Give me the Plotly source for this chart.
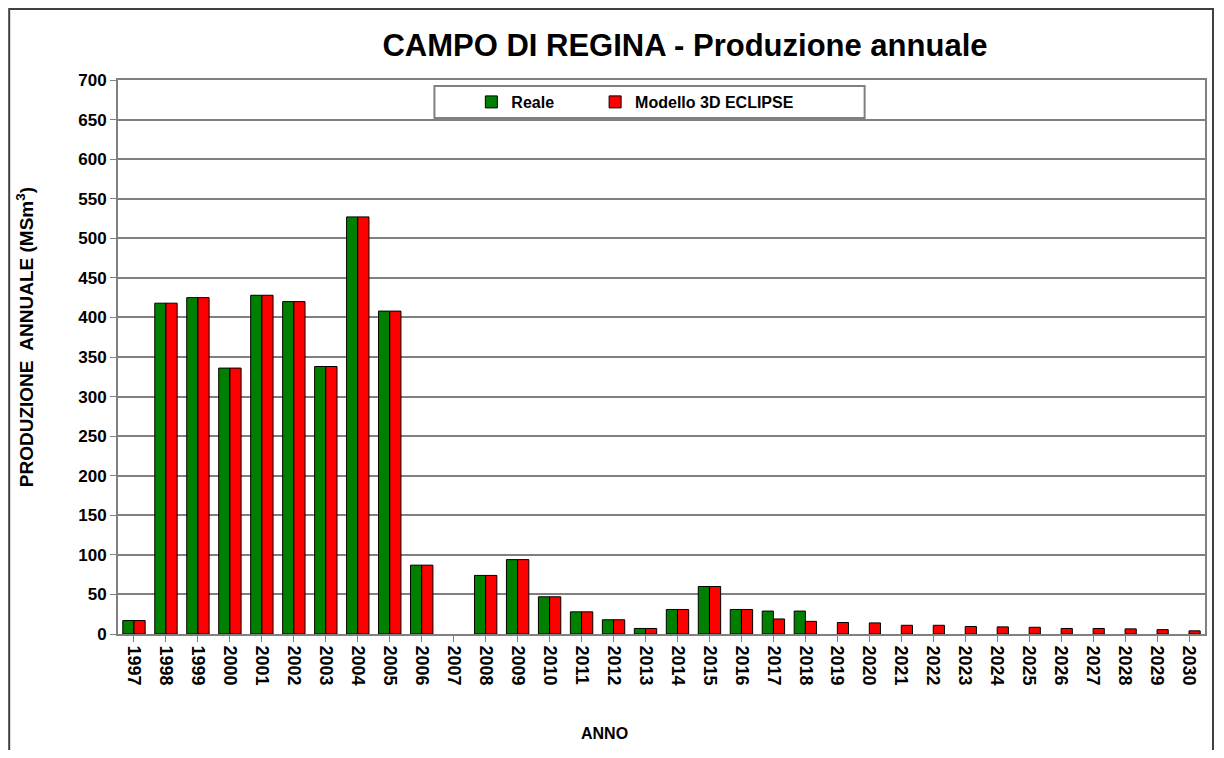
import plotly.graph_objects as go

# dati
anni = [str(a) for a in range(1997, 2031)]
reale = [17, 418, 425, 336, 428, 420, 338, 527, 408, 87, None, 74, 94, 47, 28, 18, 7,
         31, 60, 31, 29, 29, None, None, None, None, None, None, None, None, None, None, None, None]
modello = [17, 418, 425, 336, 428, 420, 338, 527, 408, 87, None, 74, 94, 47, 28, 18, 7,
           31, 60, 31, 19, 16, 14.5, 14, 11, 11, 9.5, 9, 8.5, 7, 7, 6.5, 5.5, 4]
y_ticks = list(range(0, 701, 50))

# la pagina html ha un margine di 8px attorno alla figura
OFF = 8
W, H = 1208, 742
L, R, T, B = 110, 9, 72, 116
PW = W - L - R
PH = H - T - B

font_b = dict(family="Arial, Liberation Sans, sans-serif", color="black", weight="bold")


def px_x(p):
    # coordinate della pagina -> paper
    return (p - OFF - L) / PW


def px_y(p):
    return (H - B - (p - OFF)) / PH


fig = go.Figure()
fig.add_trace(go.Bar(name="Reale", x=anni, y=reale, legend="legend",
                     marker=dict(color="#008000", line=dict(color="black", width=1))))
fig.add_trace(go.Bar(name="Modello 3D ECLIPSE", x=anni, y=modello, legend="legend2",
                     marker=dict(color="#FF0000", line=dict(color="black", width=1))))

leg = dict(orientation="h", xanchor="left", y=px_y(102), yanchor="middle",
           bgcolor="rgba(0,0,0,0)", borderwidth=0, itemwidth=30,
           font=dict(size=16, **font_b))

fig.update_layout(
    width=W, height=H,
    margin=dict(l=L, r=R, t=T, b=B),
    paper_bgcolor="white", plot_bgcolor="white",
    barmode="group", bargap=0.3, bargroupgap=0,
    title=dict(text="CAMPO DI REGINA - Produzione annuale",
               x=px_x(686), xref="paper", xanchor="center",
               y=1 - (45 - OFF) / H, yanchor="middle",
               font=dict(size=31, **font_b)),
    showlegend=True,
    legend=dict(x=px_x(472), **leg),
    legend2=dict(x=px_x(596), **leg),
    xaxis=dict(
        type="category", tickangle=90,
        tickfont=dict(size=18, **font_b),
        ticks="outside", ticklen=6, tickcolor="#808080",
        showline=True, linecolor="#808080", linewidth=2, mirror=True,
        showgrid=False,
    ),
    yaxis=dict(
        range=[0, 700], tickvals=y_ticks, ticksuffix=" ",
        tickfont=dict(size=17, **font_b),
        ticks="outside", ticklen=6, tickcolor="#808080",
        showline=True, linecolor="#808080", linewidth=2, mirror=True,
        showgrid=True, gridcolor="#808080", gridwidth=2,
        zeroline=False,
    ),
    annotations=[
        dict(text="PRODUZIONE  ANNUALE (MSm<sup>3</sup>)", textangle=-90,
             xref="paper", yref="paper", x=px_x(25), y=px_y(337),
             xanchor="center", yanchor="middle", showarrow=False,
             font=dict(size=19, **font_b)),
        dict(text="ANNO", xref="paper", yref="paper", x=px_x(605), y=px_y(733),
             xanchor="center", yanchor="middle", showarrow=False,
             font=dict(size=16, **font_b)),
    ],
    shapes=[
        # riquadro legenda
        dict(type="rect", xref="paper", yref="paper",
             x0=px_x(435), x1=px_x(866), y0=px_y(118), y1=px_y(86),
             line=dict(color="#808080", width=2), fillcolor="white", layer="below"),
        # bordo esterno
        dict(type="rect", xref="paper", yref="paper",
             x0=px_x(9), x1=px_x(1215), y0=px_y(770), y1=px_y(9),
             line=dict(color="#404040", width=2)),
    ],
)

fig.write_html("out.html")
